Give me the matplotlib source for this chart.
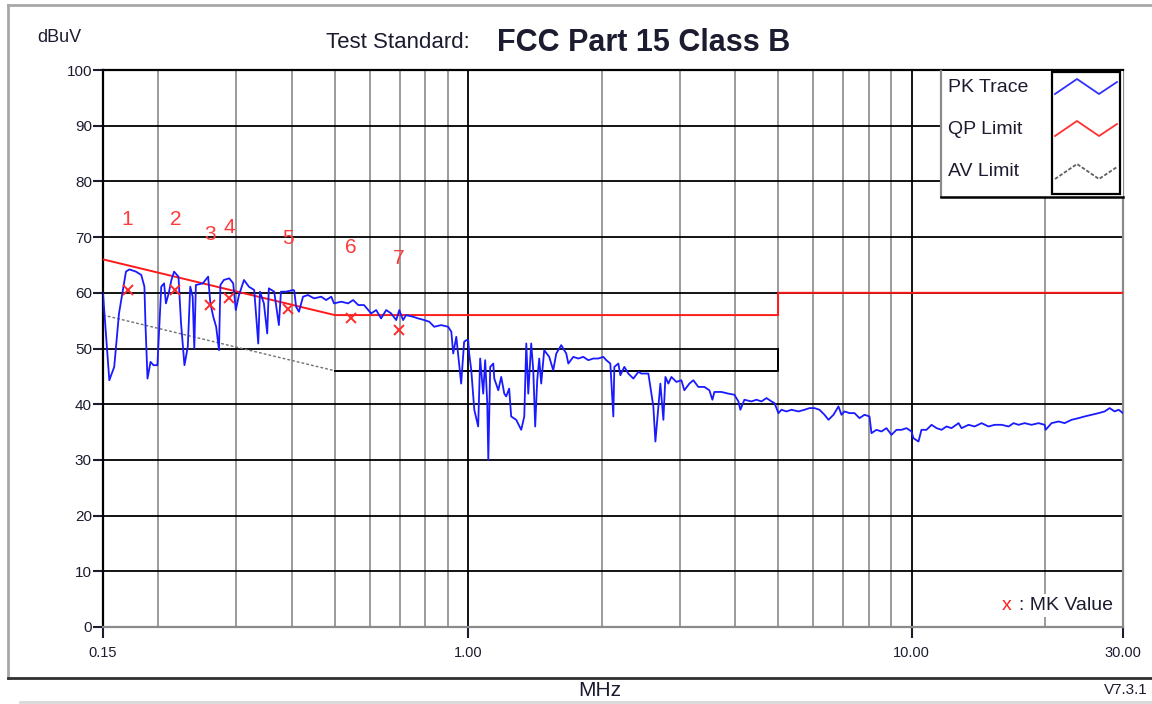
import matplotlib
matplotlib.use("Agg")
import matplotlib.pyplot as plt
from matplotlib.ticker import NullLocator
from matplotlib.patches import Rectangle
from matplotlib.lines import Line2D

plt.rcParams["font.family"] = ["Liberation Sans", "DejaVu Sans"]

# DATA
PK_FREQ = [
    0.150, 0.155, 0.159, 0.163, 0.169, 0.172, 0.178, 0.183, 0.186, 0.187,
    0.189, 0.192, 0.195, 0.199, 0.201, 0.203, 0.206, 0.208, 0.211, 0.214,
    0.217, 0.222, 0.225, 0.229, 0.233, 0.236, 0.239, 0.241, 0.243, 0.252,
    0.259, 0.262, 0.266, 0.270, 0.274, 0.276, 0.281, 0.289, 0.295, 0.299,
    0.304, 0.312, 0.320, 0.329, 0.336, 0.339, 0.346, 0.352, 0.355, 0.365,
    0.374, 0.378, 0.388, 0.403, 0.405, 0.409, 0.415, 0.424, 0.435, 0.449,
    0.466, 0.478, 0.491, 0.498, 0.517, 0.536, 0.550, 0.565, 0.582, 0.604,
    0.620, 0.636, 0.653, 0.670, 0.688, 0.699, 0.713, 0.724, 0.751, 0.771,
    0.796, 0.817, 0.838, 0.869, 0.901, 0.916, 0.925, 0.940, 0.964, 0.979,
    0.990, 1.000, 1.005, 1.016, 1.032, 1.053, 1.064, 1.081, 1.092, 1.104,
    1.110, 1.121, 1.139, 1.145, 1.169, 1.187, 1.206, 1.218, 1.237, 1.250,
    1.283, 1.317, 1.338, 1.352, 1.366, 1.387, 1.402, 1.416, 1.431, 1.446,
    1.461, 1.484, 1.523, 1.555, 1.580, 1.621, 1.664, 1.682, 1.726, 1.771,
    1.818, 1.866, 1.915, 1.965, 2.017, 2.049, 2.092, 2.125, 2.136, 2.181,
    2.204, 2.250, 2.297, 2.358, 2.420, 2.458, 2.549, 2.616, 2.644, 2.685,
    2.713, 2.756, 2.785, 2.828, 2.873, 2.948, 3.026, 3.073, 3.154, 3.220,
    3.305, 3.410, 3.500, 3.555, 3.592, 3.725, 3.863, 3.985, 4.069, 4.111,
    4.198, 4.354, 4.469, 4.587, 4.708, 4.831, 4.907, 5.010, 5.089, 5.223,
    5.361, 5.560, 5.736, 5.887, 6.042, 6.201, 6.364, 6.497, 6.668, 6.843,
    6.951, 7.060, 7.246, 7.437, 7.632, 7.833, 8.039, 8.123, 8.337, 8.556,
    8.781, 9.012, 9.249, 9.493, 9.744, 10.00, 10.10, 10.37, 10.53, 10.81,
    11.10, 11.39, 11.69, 11.99, 12.31, 12.77, 12.97, 13.45, 13.88, 14.39,
    14.92, 15.40, 15.97, 16.56, 16.99, 17.44, 17.99, 18.66, 19.35, 19.97,
    20.07, 20.70, 21.47, 22.15, 22.97, 23.82, 24.58, 25.49, 26.43, 27.27,
    27.99, 28.72, 29.33, 30.00,
]
PK_LEVEL = [
    59.9, 44.3, 46.7, 56.3, 63.8, 64.2, 63.8, 63.2, 61.1, 54.5,
    44.6, 47.6, 47.0, 47.0, 53.9, 61.1, 61.7, 58.1, 59.9, 62.3,
    63.8, 62.9, 54.5, 47.0, 50.3, 61.1, 59.3, 50.0, 61.4, 61.7,
    62.9, 58.1, 55.7, 53.9, 49.7, 61.4, 62.3, 62.6, 61.7, 56.9,
    59.6, 62.3, 61.1, 60.5, 50.9, 60.2, 58.1, 52.7, 60.8, 60.2,
    54.2, 60.2, 60.2, 60.5, 60.4, 57.5, 56.6, 59.3, 59.6, 59.0,
    59.3, 58.7, 59.3, 58.1, 58.4, 58.1, 58.7, 57.8, 57.8, 56.3,
    56.9, 55.4, 56.9, 56.3, 55.1, 56.9, 55.1, 56.0, 55.7, 55.4,
    55.1, 54.8, 53.9, 54.2, 53.9, 53.0, 49.1, 52.1, 43.7, 51.2,
    51.5, 51.5, 49.1, 46.1, 39.0, 36.0, 48.2, 41.9, 47.9, 40.2,
    30.0, 46.7, 47.3, 44.6, 42.5, 44.9, 41.9, 41.4, 42.8, 37.8,
    37.2, 35.4, 37.8, 50.9, 41.9, 50.9, 46.1, 36.0, 44.3, 48.2,
    43.7, 49.7, 48.5, 46.1, 49.1, 50.6, 49.1, 47.3, 48.5, 48.2,
    48.5, 47.9, 48.2, 48.2, 48.5, 47.9, 47.3, 37.8, 46.7, 47.3,
    45.2, 46.7, 45.5, 44.6, 45.8, 45.5, 45.5, 39.6, 33.3, 39.6,
    43.7, 37.2, 44.9, 43.7, 44.9, 44.0, 44.3, 42.5, 43.7, 44.3,
    43.1, 43.1, 42.5, 40.8, 42.2, 42.2, 41.9, 41.7, 40.5, 39.0,
    40.8, 40.5, 40.8, 40.5, 41.1, 40.5, 40.2, 38.4, 39.0, 38.7,
    39.0, 38.7, 39.0, 39.3, 39.3, 39.0, 38.1, 37.2, 38.1, 39.6,
    38.1, 38.7, 38.4, 38.4, 37.5, 38.1, 37.8, 34.8, 35.4, 35.1,
    35.7, 34.5, 35.4, 35.4, 35.7, 35.1, 33.9, 33.3, 35.4, 35.4,
    36.3, 35.7, 35.4, 36.0, 35.7, 36.6, 35.7, 36.3, 36.0, 36.6,
    36.0, 36.3, 36.3, 36.0, 36.6, 36.3, 36.6, 36.3, 36.6, 36.3,
    35.4, 36.6, 36.9, 36.6, 37.2, 37.5, 37.8, 38.1, 38.4, 38.7,
    39.3, 38.7, 39.0, 38.4,
]

# FCC Part 15 Class B conducted limits
QP_FREQ = [0.15, 0.5, 5.0, 5.0, 30.0]
QP_LEVEL = [66, 56, 56, 60, 60]
AV_SLOPE_FREQ = [0.15, 0.5]
AV_SLOPE_LEVEL = [56, 46]
AV_FLAT_FREQ = [0.5, 5.0, 5.0]
AV_FLAT_LEVEL = [46, 46, 50]

MK_FREQ = [0.1705, 0.2184, 0.2620, 0.2891, 0.3917, 0.5443, 0.6962]
MK_LEVEL = [60.5, 60.5, 57.8, 59.0, 57.1, 55.4, 53.4]
MK_LABELS = ["1", "2", "3", "4", "5", "6", "7"]

X_TICKS = [0.15, 1.0, 10.0, 30.0]
X_TICK_LABELS = ["0.15", "1.00", "10.00", "30.00"]
Y_TICKS = list(range(0, 101, 10))
GRAY_VLINES = [0.2, 0.3, 0.4, 0.5, 0.6, 0.7, 0.8, 0.9,
               2, 3, 4, 5, 6, 7, 8, 9, 20]
BLACK_VLINES = [1.0, 10.0]

TXT = "#1c1c30"
W, H = 1152, 704

fig = plt.figure(figsize=(W / 100, H / 100), dpi=100)
fig.patch.set_facecolor("white")

# plot area in pixels: x 103..1123, y 70..627
L, R, T, B = 103, 1123, 70, 627
ax = fig.add_axes([L / W, 1 - B / H, (R - L) / W, (B - T) / H])
ax.set_xscale("log")
ax.set_xlim(0.15, 30)
ax.set_ylim(0, 100)

# grid
for f in GRAY_VLINES:
    ax.axvline(f, color="#8a8a8a", lw=1.2, zorder=1)
for f in BLACK_VLINES:
    ax.axvline(f, color="black", lw=1.3, zorder=1)
for y in range(10, 100, 10):
    if y == 50:
        ax.hlines(y, 0.15, 5.0, color="black", lw=1.3, zorder=1)
    else:
        ax.axhline(y, color="black", lw=1.3, zorder=1)

# limits
ax.plot(AV_SLOPE_FREQ, AV_SLOPE_LEVEL, color="#707070", lw=1.0,
        ls=(0, (2, 1.5)), zorder=2)
ax.plot(AV_FLAT_FREQ, AV_FLAT_LEVEL, color="black", lw=1.4, zorder=2)
ax.plot(QP_FREQ, QP_LEVEL, color="#ff1a1a", lw=1.4, zorder=3)

# trace
ax.plot(PK_FREQ, PK_LEVEL, color="#1a1aff", lw=1.3, zorder=4)

# markers
ax.plot(MK_FREQ, MK_LEVEL, ls="none", marker="x", ms=7, mew=1.4,
        color="#ff2a2a", zorder=5)
for f, v, lab in zip(MK_FREQ, MK_LEVEL, MK_LABELS):
    ax.annotate(lab, (f, v), xytext=(0, 51), textcoords="offset points",
                ha="center", va="center", color="#ff3a3a", fontsize=15)

# axes styling
ax.xaxis.set_minor_locator(NullLocator())
ax.set_xticks(X_TICKS)
ax.set_xticklabels(X_TICK_LABELS)
ax.set_yticks(Y_TICKS)
ax.set_yticklabels([str(v) for v in Y_TICKS])
ax.tick_params(axis="y", direction="out", length=7, width=1.5,
               colors=TXT, labelsize=11, pad=1)
ax.tick_params(axis="x", direction="out", length=8, width=1.5,
               colors=TXT, labelsize=10.5, pad=6)
ax.spines["left"].set_color("black")
ax.spines["left"].set_linewidth(1.6)
ax.spines["top"].set_color("black")
ax.spines["top"].set_linewidth(1.6)
ax.spines["bottom"].set_color("#8a8a8a")
ax.spines["bottom"].set_linewidth(1.6)
ax.spines["right"].set_color("#8a8a8a")
ax.spines["right"].set_linewidth(1.6)

# "x : MK Value" note, white box hides the 20 MHz grid line behind it
ax.annotate(": MK Value", xy=(0.99, 0.038), xycoords="axes fraction",
            ha="right", va="center", fontsize=14, color=TXT,
            bbox=dict(boxstyle="square,pad=0.15", fc="white", ec="none"),
            zorder=6)
ax.annotate("x", xy=(0.891, 0.038), xycoords="axes fraction",
            ha="right", va="center", fontsize=14, color="#ff2020", zorder=7)

# legend box
lx0, lx1, ly0, ly1 = 941, 1123, 71, 197
lax = fig.add_axes([lx0 / W, 1 - ly1 / H, (lx1 - lx0) / W, (ly1 - ly0) / H])
lax.set_xlim(0, lx1 - lx0)
lax.set_ylim(ly1 - ly0, 0)
lax.set_xticks([])
lax.set_yticks([])
lax.set_facecolor("white")
lax.spines["top"].set_visible(False)
lax.spines["right"].set_visible(False)
lax.spines["left"].set_color("#8a8a8a")
lax.spines["left"].set_linewidth(1.6)
lax.spines["bottom"].set_color("black")
lax.spines["bottom"].set_linewidth(1.8)
lax.add_patch(Rectangle((111, 1), 68, 122, fill=False, ec="black", lw=1.6))
rows = [("PK Trace", "#3030ff", "-", 16), ("QP Limit", "#ff3030", "-", 58),
        ("AV Limit", "#606060", (0, (2, 1)), 101)]
for name, col, ls, cy in rows:
    lax.text(7, cy, name, ha="left", va="center", fontsize=14, color=TXT)
    lax.plot([114, 136, 158, 176], [cy + 7, cy - 8, cy + 7, cy - 5],
             color=col, lw=1.3, ls=ls)

# titles / labels
fig.text(470 / W, 1 - 43 / H, "Test Standard:", ha="right", va="center",
         fontsize=16, color=TXT)
fig.text(497 / W, 1 - 43 / H, "FCC Part 15 Class B", ha="left", va="center",
         fontsize=22, fontweight="bold", color=TXT)
fig.text(37 / W, 1 - 38 / H, "dBuV", ha="left", va="center",
         fontsize=13, color=TXT)
fig.text(600 / W, 1 - 690 / H, "MHz", ha="center", va="center",
         fontsize=15, color=TXT)
fig.text(1148 / W, 1 - 690 / H, "V7.3.1", ha="right", va="center",
         fontsize=11, color=TXT)

# outer frame
fig.add_artist(Line2D([8 / W, 1], [1 - 5 / H, 1 - 5 / H],
                      transform=fig.transFigure, color="#a8a8a8", lw=2))
fig.add_artist(Line2D([8 / W, 8 / W], [1 - 5 / H, 1 - 678 / H],
                      transform=fig.transFigure, color="#a8a8a8", lw=2))
fig.add_artist(Line2D([8 / W, 1], [1 - 678 / H, 1 - 678 / H],
                      transform=fig.transFigure, color="#303030", lw=2))
fig.add_artist(Line2D([20 / W, 1], [1 - 702 / H, 1 - 702 / H],
                      transform=fig.transFigure, color="#d8d8d8", lw=2))

fig.savefig("out.png", dpi=100, facecolor="white")
